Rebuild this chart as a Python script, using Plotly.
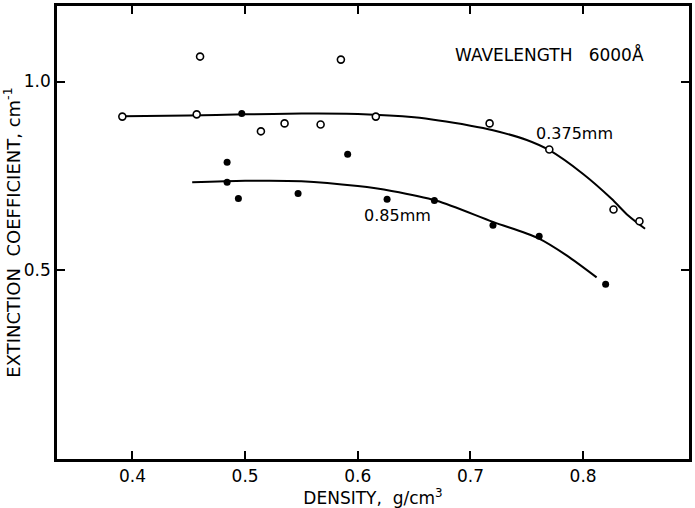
import plotly.graph_objects as go

# 0.375 mm sample (open circles)
x_375 = [0.391, 0.460, 0.457, 0.514, 0.535, 0.567, 0.585, 0.616, 0.717, 0.770, 0.827, 0.850]
y_375 = [0.907, 1.066, 0.913, 0.868, 0.889, 0.886, 1.058, 0.907, 0.889, 0.820, 0.661, 0.630]

# 0.85 mm sample (filled circles)
x_85 = [0.484, 0.484, 0.494, 0.497, 0.547, 0.591, 0.626, 0.668, 0.720, 0.761, 0.820]
y_85 = [0.786, 0.733, 0.690, 0.915, 0.703, 0.807, 0.688, 0.685, 0.619, 0.590, 0.463]

# hand-drawn fitted curves
cx_375 = [0.392, 0.45, 0.50, 0.55, 0.60, 0.65, 0.70, 0.72, 0.75, 0.77, 0.80, 0.825, 0.84, 0.855]
cy_375 = [0.908, 0.910, 0.913, 0.915, 0.914, 0.905, 0.883, 0.871, 0.845, 0.818, 0.755, 0.690, 0.645, 0.610]

cx_85 = [0.453, 0.50, 0.55, 0.60, 0.63, 0.67, 0.72, 0.76, 0.785, 0.812]
cy_85 = [0.733, 0.737, 0.736, 0.723, 0.710, 0.684, 0.628, 0.585, 0.540, 0.481]

x_ticks = [0.4, 0.5, 0.6, 0.7, 0.8]
x_tick_text = ["0.4", "0.5", "0.6", "0.7", "0.8"]
y_ticks = [0.5, 1.0]
y_tick_text = ["0.5", "1.0"]

FONT = "DejaVu Sans"

fig = go.Figure()
fig.add_trace(go.Scatter(x=cx_375, y=cy_375, mode="lines",
                         line=dict(color="black", width=2, shape="spline", smoothing=0.8),
                         hoverinfo="skip", showlegend=False))
fig.add_trace(go.Scatter(x=cx_85, y=cy_85, mode="lines",
                         line=dict(color="black", width=2, shape="spline", smoothing=0.8),
                         hoverinfo="skip", showlegend=False))
fig.add_trace(go.Scatter(x=x_375, y=y_375, mode="markers", name="0.375mm",
                         marker=dict(symbol="circle", size=7, color="white", line=dict(color="black", width=1.6)),
                         showlegend=False))
fig.add_trace(go.Scatter(x=x_85, y=y_85, mode="markers", name="0.85mm",
                         marker=dict(symbol="circle", size=7, color="black", line=dict(color="black", width=0)),
                         showlegend=False))

fig.add_annotation(x=0.770, y=1.071, text="WAVELENGTH&nbsp;&nbsp;&nbsp;6000Å", showarrow=False,
                   font=dict(family=FONT, size=17, color="black"))
fig.add_annotation(x=0.792, y=0.862, text="0.375mm", showarrow=False,
                   font=dict(family=FONT, size=16, color="black"))
fig.add_annotation(x=0.635, y=0.645, text="0.85mm", showarrow=False,
                   font=dict(family=FONT, size=16, color="black"))

fig.update_xaxes(range=[0.333, 0.894], tickvals=x_ticks, ticktext=x_tick_text,
                 showline=True, linecolor="black", linewidth=2.5, mirror="ticks",
                 ticks="inside", ticklen=8, tickwidth=2, tickcolor="black",
                 showgrid=False, zeroline=False,
                 tickfont=dict(family=FONT, size=17, color="black"),
                 title=dict(text="DENSITY,&nbsp;&nbsp;g/cm<sup>3</sup>", font=dict(family=FONT, size=17, color="black"),
                            standoff=0))
fig.update_yaxes(range=[0, 1.2], tickvals=y_ticks, ticktext=y_tick_text,
                 showline=True, linecolor="black", linewidth=2.5, mirror="ticks",
                 ticks="inside", ticklen=8, tickwidth=2, tickcolor="black",
                 showgrid=False, zeroline=False,
                 tickfont=dict(family=FONT, size=17, color="black"),
                 title=dict(text="EXTINCTION&nbsp;&nbsp;COEFFICIENT, cm<sup>-1</sup>",
                            font=dict(family=FONT, size=18, color="black"), standoff=2))

fig.update_layout(width=695, height=508, margin=dict(l=57, r=3, t=6, b=49),
                  plot_bgcolor="white", paper_bgcolor="white")

fig.write_html("out.html")
